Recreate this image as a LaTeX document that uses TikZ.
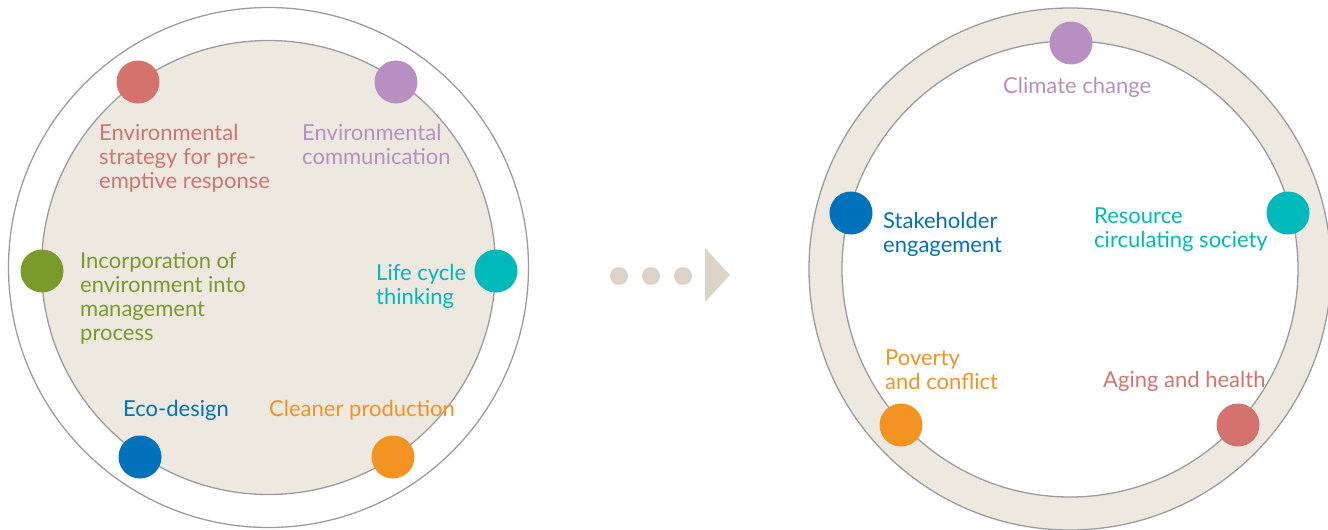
\documentclass[tikz,border=0pt]{standalone}
\usepackage{fontspec}
\setmainfont{Lato}
\definecolor{cred}{HTML}{D4736E}
\definecolor{cpurple}{HTML}{B88FC2}
\definecolor{cgreen}{HTML}{7A9A2C}
\definecolor{cteal}{HTML}{00B9BB}
\definecolor{cblue}{HTML}{0072BC}
\definecolor{corange}{HTML}{F39322}
\definecolor{cbeige}{HTML}{EDE9E1}
\definecolor{cline}{HTML}{9C9C9C}
\definecolor{carrow}{HTML}{DCD5C7}
\tikzset{
  dot/.style={circle, fill=#1, minimum size=43pt, inner sep=0pt},
  lbl/.style={anchor=base west, inner sep=0pt, text=#1, font=\fontsize{22}{24}\selectfont},
  ringline/.style={draw=cline, line width=1.3pt},
  tdot/.style={circle, fill=carrow, minimum size=18pt, inner sep=0pt},
}
\begin{document}
\begin{tikzpicture}[x=1pt,y=-1pt]
\useasboundingbox (0,0) rectangle (1328,530);
% left circle
\coordinate (LC) at (268.5,267.5);
\draw[ringline] (LC) circle (260pt);
\draw[ringline, fill=cbeige] (LC) circle (227pt);
\node[dot=cred] (Ld1) at (138,82) {};
\node[dot=cpurple] (Ld2) at (396,82) {};
\node[dot=cgreen] (Ld3) at (42,271) {};
\node[dot=cteal] (Ld4) at (496,271) {};
\node[dot=cblue] (Ld5) at (140,457) {};
\node[dot=corange] (Ld6) at (393,457) {};
\node[lbl=cred] (Lt1) at (99,140) {\vtop{\hbox{Environmental}\hbox{strategy for pre-}\hbox{emptive response}}};
\node[lbl=cpurple] (Lt2) at (302,140) {\vtop{\hbox{Environmental}\hbox{communication}}};
\node[lbl=cgreen] (Lt3) at (80,268) {\vtop{\hbox{Incorporation of}\hbox{environment into}\hbox{management}\hbox{process}}};
\node[lbl=cteal] (Lt4) at (376,280) {\vtop{\hbox{Life cycle}\hbox{thinking}}};
\node[lbl=cblue] (Lt5) at (123,416) {Eco-design};
\node[lbl=corange] (Lt6) at (269,416) {Cleaner production};
% arrow
\node[tdot] (a1) at (619,276) {};
\node[tdot] (a2) at (651,276) {};
\node[tdot] (a3) at (683,276) {};
\fill[carrow] (705,248) -- (730,275) -- (705,302) -- cycle;
% right ring
\coordinate (RC) at (1070,269);
\fill[cbeige, even odd rule] (RC) circle (261pt) (RC) circle (228pt);
\draw[ringline] (RC) circle (261pt);
\draw[ringline] (RC) circle (228pt);
\node[dot=cpurple] (Rd1) at (1071,43) {};
\node[dot=cblue] (Rd2) at (851,213) {};
\node[dot=cteal] (Rd3) at (1288,213) {};
\node[dot=corange] (Rd4) at (901,425) {};
\node[dot=cred] (Rd5) at (1238,425) {};
\node[lbl=cpurple] (Rt1) at (1003,93) {Climate change};
\node[lbl=cblue] (Rt2) at (883,228) {\vtop{\hbox{Stakeholder}\hbox{engagement}}};
\node[lbl=cteal] (Rt3) at (1094,223) {\vtop{\hbox{Resource}\hbox{circulating society}}};
\node[lbl=corange] (Rt4) at (885,365) {\vtop{\hbox{Poverty}\hbox{and conflict}}};
\node[lbl=cred] (Rt5) at (1103,387) {Aging and health};
\end{tikzpicture}
\end{document}
